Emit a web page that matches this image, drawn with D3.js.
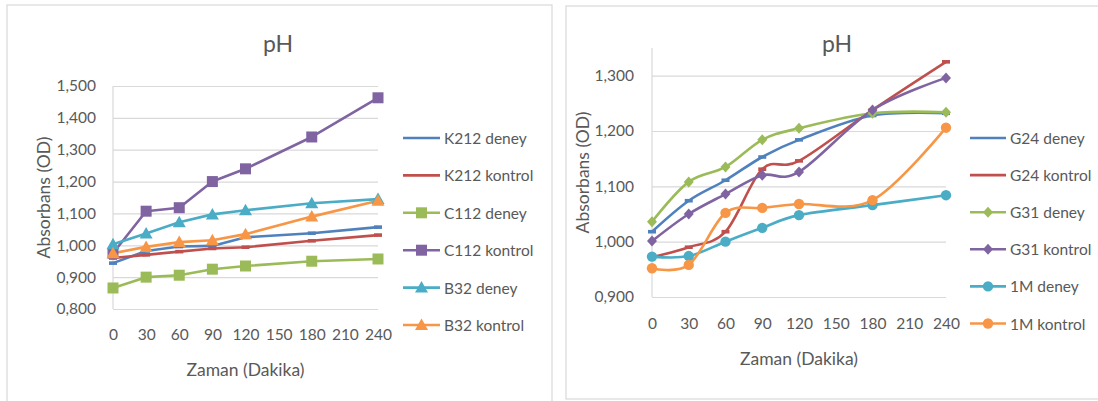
<!DOCTYPE html>
<html>
<head>
<meta charset="utf-8">
<script src="https://cdn.jsdelivr.net/npm/d3@7/dist/d3.min.js"></script>
<style>
  html, body { margin: 0; padding: 0; background: #fff; }
  svg { display: block; }
  text { font-family: Lato, "Open Sans", sans-serif; fill: #595959; }
</style>
</head>
<body>
<svg id="chart" width="1098" height="401"></svg>
<script>
// Sampling times (minutes)
const minutes = [0, 30, 60, 90, 120, 180, 240];
const xTicks = [0, 30, 60, 90, 120, 150, 180, 210, 240];

// Left panel: K212, C112, B32
const leftTicks = [0.8, 0.9, 1.0, 1.1, 1.2, 1.3, 1.4, 1.5];
const k212Deney   = [0.944, 0.982, 0.996, 0.998, 1.025, 1.038, 1.057];
const k212Kontrol = [0.960, 0.970, 0.980, 0.990, 0.994, 1.014, 1.032];
const c112Deney   = [0.866, 0.900, 0.906, 0.925, 0.935, 0.950, 0.957];
const c112Kontrol = [0.975, 1.107, 1.118, 1.200, 1.240, 1.340, 1.463];
const b32Deney    = [1.003, 1.037, 1.072, 1.097, 1.110, 1.132, 1.145];
const b32Kontrol  = [0.975, 0.995, 1.010, 1.016, 1.035, 1.090, 1.140];

// Right panel: G24, G31, 1M
const rightTicks = [0.9, 1.0, 1.1, 1.2, 1.3];
const g24Deney   = [1.018, 1.074, 1.111, 1.153, 1.184, 1.228, 1.232];
const g24Kontrol = [0.972, 0.990, 1.018, 1.131, 1.146, 1.238, 1.325];
const g31Deney   = [1.036, 1.108, 1.135, 1.184, 1.205, 1.232, 1.234];
const g31Kontrol = [1.001, 1.050, 1.086, 1.120, 1.126, 1.238, 1.296];
const m1Deney    = [0.973, 0.974, 1.000, 1.025, 1.048, 1.066, 1.084];
const m1Kontrol  = [0.952, 0.958, 1.052, 1.061, 1.068, 1.075, 1.206];

const C = {
  blue: "#4F81BD", red: "#C0504D", green: "#9BBB59",
  purple: "#8064A2", aqua: "#4BACC6", orange: "#F79646"
};

const leftSeries = [
  { name: "K212 deney",   values: k212Deney,   color: C.blue,   marker: "dash" },
  { name: "K212 kontrol", values: k212Kontrol, color: C.red,    marker: "dash" },
  { name: "C112 deney",   values: c112Deney,   color: C.green,  marker: "square" },
  { name: "C112 kontrol", values: c112Kontrol, color: C.purple, marker: "square" },
  { name: "B32 deney",    values: b32Deney,    color: C.aqua,   marker: "triangle" },
  { name: "B32 kontrol",  values: b32Kontrol,  color: C.orange, marker: "triangle" }
];
const rightSeries = [
  { name: "G24 deney",   values: g24Deney,   color: C.blue,   marker: "dash" },
  { name: "G24 kontrol", values: g24Kontrol, color: C.red,    marker: "dash" },
  { name: "G31 deney",   values: g31Deney,   color: C.green,  marker: "diamond" },
  { name: "G31 kontrol", values: g31Kontrol, color: C.purple, marker: "diamond" },
  { name: "1M deney",    values: m1Deney,    color: C.aqua,   marker: "circle" },
  { name: "1M kontrol",  values: m1Kontrol,  color: C.orange, marker: "circle" }
];

const svg = d3.select("#chart");
const fmtLocale = d3.formatLocale({ decimal: ",", thousands: ".", grouping: [3], currency: ["", ""] });
const fmt = fmtLocale.format(".3f");

function drawMarker(g, type, x, y, color) {
  if (type === "dash") {
    g.append("rect").attr("x", x - 4).attr("y", y - 1.8).attr("width", 8).attr("height", 3.6)
      .attr("fill", color);
  } else if (type === "square") {
    g.append("rect").attr("x", x - 5.5).attr("y", y - 5.5).attr("width", 11).attr("height", 11)
      .attr("fill", color);
  } else if (type === "triangle") {
    g.append("path").attr("d", `M${x},${y - 6.5}L${x + 6.5},${y + 5}L${x - 6.5},${y + 5}Z`)
      .attr("fill", color);
  } else if (type === "diamond") {
    g.append("path").attr("d", `M${x},${y - 5.5}L${x + 5},${y}L${x},${y + 5.5}L${x - 5},${y}Z`)
      .attr("fill", color);
  } else if (type === "circle") {
    g.append("circle").attr("cx", x).attr("cy", y).attr("r", 5.2).attr("fill", color);
  }
}

function panel(cfg) {
  const g = svg.append("g");
  // chart frame
  g.append("rect").attr("x", cfg.frame[0]).attr("y", cfg.frame[1])
    .attr("width", cfg.frame[2]).attr("height", cfg.frame[3])
    .attr("fill", "#fff").attr("stroke", "#d9d9d9").attr("stroke-width", 1.2);

  const x = d3.scaleLinear().domain([0, 240]).range([cfg.x0, cfg.x1]);
  const y = d3.scaleLinear().domain(cfg.yDomain).range([cfg.yBottom, cfg.yTop]);

  // gridlines and value labels
  const yAxis = d3.axisLeft(y).tickValues(cfg.yTicks).tickSize(-(cfg.x1 - cfg.x0))
    .tickFormat(fmt).tickPadding(cfg.x0 - cfg.yLabelRight);
  const ya = g.append("g").attr("transform", `translate(${cfg.x0},0)`).call(yAxis);
  ya.select(".domain").remove();
  ya.selectAll(".tick line").attr("stroke", "#d9d9d9").attr("stroke-width", 1.2);
  ya.selectAll(".tick text").attr("font-size", 15.5).attr("fill", "#595959")
    .attr("font-family", "Lato, sans-serif");
  // vertical axis line
  g.append("line").attr("x1", cfg.x0).attr("x2", cfg.x0)
    .attr("y1", y(cfg.yDomain[1])).attr("y2", cfg.yBottom)
    .attr("stroke", "#d9d9d9").attr("stroke-width", 1.2);

  // time labels
  const xAxis = d3.axisBottom(x).tickValues(xTicks).tickSize(0).tickPadding(cfg.xLabelY - cfg.yBottom - 5);
  const xa = g.append("g").attr("transform", `translate(0,${cfg.yBottom})`).call(xAxis);
  xa.select(".domain").remove();
  xa.selectAll(".tick text").attr("font-size", 15.5).attr("fill", "#595959")
    .attr("font-family", "Lato, sans-serif");

  // titles
  g.append("text").attr("x", cfg.titleX).attr("y", 43).attr("text-anchor", "middle")
    .attr("dominant-baseline", "central").attr("font-size", 23).text("pH");
  g.append("text").attr("x", (cfg.x0 + cfg.x1) / 2).attr("y", cfg.xTitleY)
    .attr("text-anchor", "middle").attr("dominant-baseline", "central")
    .attr("font-size", 17.5).text("Zaman (Dakika)");
  g.append("text")
    .attr("transform", `translate(${cfg.yTitleX},${(cfg.yBottom + y(cfg.yDomain[1])) / 2}) rotate(-90)`)
    .attr("text-anchor", "middle").attr("dominant-baseline", "central")
    .attr("font-size", 17.5).text("Absorbans (OD)");

  // series lines and markers
  const line = d3.line().x((d, i) => x(minutes[i])).y(d => y(d)).curve(cfg.curve);
  cfg.series.forEach(s => {
    g.append("path").attr("d", line(s.values)).attr("fill", "none")
      .attr("stroke", s.color).attr("stroke-width", 2.6).attr("stroke-linejoin", "round");
  });
  cfg.series.forEach(s => {
    const mg = g.append("g");
    s.values.forEach((v, i) => drawMarker(mg, s.marker, x(minutes[i]), y(v), s.color));
  });

  // legend
  const lg = g.append("g");
  cfg.series.forEach((s, i) => {
    const ly = cfg.legendY0 + i * cfg.legendStep;
    lg.append("line").attr("x1", cfg.legendX).attr("x2", cfg.legendX + cfg.legendLen)
      .attr("y1", ly).attr("y2", ly).attr("stroke", s.color).attr("stroke-width", 2.6);
    if (s.marker !== "dash") drawMarker(lg, s.marker, cfg.legendX + cfg.legendLen / 2, ly, s.color);
    lg.append("text").attr("x", cfg.legendX + cfg.legendLen + 4).attr("y", ly)
      .attr("dominant-baseline", "central").attr("font-size", 15.5).text(s.name);
  });
}

panel({
  frame: [7, 5, 545, 400],
  x0: 113, x1: 378, yTop: 86, yBottom: 309, yDomain: [0.8, 1.5], yTicks: leftTicks,
  yLabelRight: 96, xLabelY: 334, xTitleY: 369, yTitleX: 43, titleX: 278,
  series: leftSeries, curve: d3.curveLinear,
  legendX: 403, legendLen: 37, legendY0: 138, legendStep: 37.4
});

panel({
  frame: [566, 6, 540, 393],
  x0: 652, x1: 946, yTop: 48, yBottom: 297, yDomain: [0.9, 1.35], yTicks: rightTicks,
  yLabelRight: 634, xLabelY: 323, xTitleY: 358, yTitleX: 582, titleX: 837,
  series: rightSeries, curve: d3.curveCatmullRom.alpha(0),
  legendX: 970, legendLen: 36, legendY0: 138, legendStep: 37.1
});
</script>
</body>
</html>
